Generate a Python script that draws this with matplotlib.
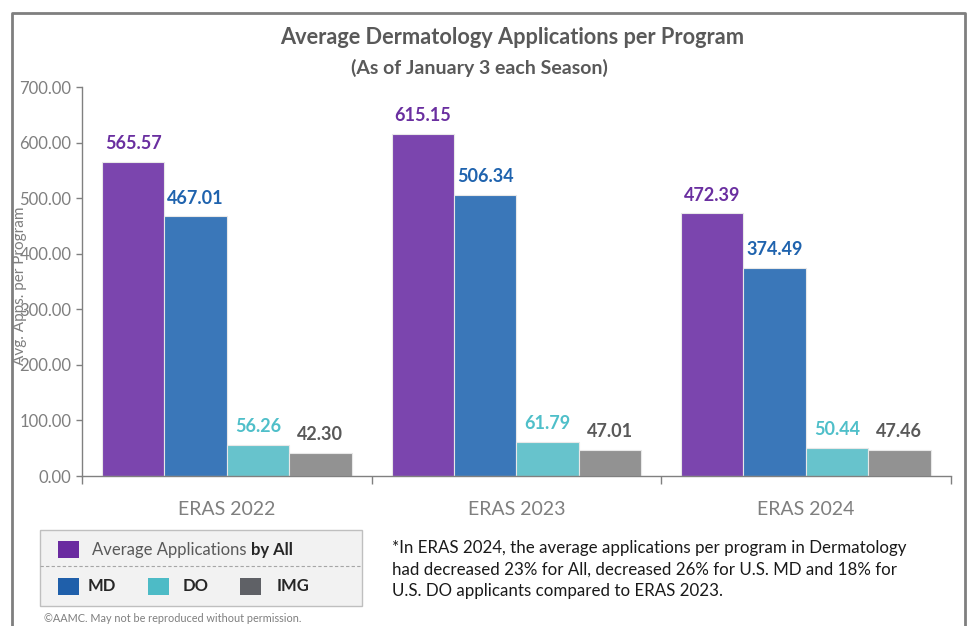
import matplotlib.pyplot as plt
import numpy as np
from matplotlib.patches import Rectangle
from matplotlib.lines import Line2D

plt.rcParams['font.family'] = ['Lato', 'DejaVu Sans']

seasons = ['ERAS 2022', 'ERAS 2023', 'ERAS 2024']
series_names = ['All', 'MD', 'DO', 'IMG']
all_apps = [565.57, 615.15, 472.39]
md_apps = [467.01, 506.34, 374.49]
do_apps = [56.26, 61.79, 50.44]
img_apps = [42.30, 47.01, 47.46]

bar_colors = ['#7B45AE', '#3A77B9', '#67C3CC', '#929292']
label_colors = ['#6A2FA0', '#1F63AE', '#4FBFC9', '#595959']
legend_colors = ['#6A2BA0', '#1F5FAA', '#4DBBC6', '#5F6166']
gray = '#595959'

fig = plt.figure(figsize=(9.73, 6.26), dpi=100)
ax = fig.add_axes([0.0843, 0.2396, 0.8927, 0.6214])

x = np.arange(len(seasons))
w = 0.2155
values = [all_apps, md_apps, do_apps, img_apps]
for i, vals in enumerate(values):
    pos = x + (i - 1.5) * w
    ax.bar(pos, vals, width=w, color=bar_colors[i], edgecolor='#E8E8E8', linewidth=0.8)
    for p, v in zip(pos, vals):
        ax.annotate(f'{v:.2f}', (p, v), xytext=(0, 7), textcoords='offset points',
                    ha='center', va='bottom', fontsize=13, fontweight='bold',
                    color=label_colors[i])

ax.set_xlim(-0.5, 2.5)
ax.set_ylim(0, 700)
ax.set_yticks(np.arange(0, 701, 100))
ax.set_yticklabels([f'{t:.2f}' for t in np.arange(0, 701, 100)])
ax.tick_params(axis='y', labelsize=12, colors='#808080', labelcolor='#7F7F7F', length=4, width=1)
ax.set_xticks(x)
ax.set_xticklabels(seasons, fontsize=14, color='#7F7F7F')
ax.tick_params(axis='x', which='major', length=0, pad=18)
ax.set_xticks([-0.5, 0.5, 1.5, 2.5], minor=True)
ax.tick_params(axis='x', which='minor', length=6, width=1, color='#808080', direction='out')
for s in ['top', 'right']:
    ax.spines[s].set_visible(False)
for s in ['left', 'bottom']:
    ax.spines[s].set_color('#808080')
    ax.spines[s].set_linewidth(1)
# the axis title sits over the tick labels, as in the original
ax.set_ylabel('Avg. Apps. per Program', fontsize=11, color='#7F7F7F')
ax.yaxis.set_label_coords(-0.063, 0.49)

fig.text(0.526, 0.94, 'Average Dermatology Applications per Program', ha='center', va='center',
         fontsize=15.7, fontweight='bold', color=gray)
fig.text(0.493, 0.891, '(As of January 3 each Season)', ha='center', va='center',
         fontsize=14, fontweight='bold', color=gray)

# outer frame
W, H = 973, 626
def fx(px): return px / W
def fy(py): return 1 - py / H
fig.add_artist(Line2D([fx(12), fx(12), fx(965), fx(965)], [0, fy(13), fy(13), 0],
                      color='#7F7F7F', linewidth=2, transform=fig.transFigure))

# legend box
fig.add_artist(Rectangle((fx(40), fy(606)), fx(362) - fx(40), fy(530) - fy(606),
                         facecolor='#F2F2F2', edgecolor='#BFBFBF', linewidth=1,
                         transform=fig.transFigure))
fig.add_artist(Line2D([fx(40), fx(362)], [fy(566), fy(566)], color='#A6A6A6',
                      linewidth=0.8, linestyle=(0, (3, 2)), transform=fig.transFigure))
sq_w, sq_h = 21, 17
fig.add_artist(Rectangle((fx(58), fy(558)), sq_w / W, sq_h / H, facecolor=legend_colors[0],
                         edgecolor='none', transform=fig.transFigure))
t = fig.text(fx(92), fy(550), 'Average Applications ', ha='left', va='center',
             fontsize=12, color=gray)
fig.canvas.draw()
bb = t.get_window_extent()
fig.text(bb.x1 / W, fy(550), 'by All', ha='left', va='center', fontsize=12,
         fontweight='bold', color='#262626')
row2 = [(58, 88, 'MD'), (148, 183, 'DO'), (240, 277, 'IMG')]
for (sx, tx, name), c in zip(row2, legend_colors[1:]):
    fig.add_artist(Rectangle((fx(sx), fy(595)), sq_w / W, sq_h / H, facecolor=c,
                             edgecolor='none', transform=fig.transFigure))
    fig.text(fx(tx), fy(586), name, ha='left', va='center', fontsize=12,
             fontweight='bold', color='#262626')

note = ('*In ERAS 2024, the average applications per program in Dermatology\n'
        'had decreased 23% for All, decreased 26% for U.S. MD and 18% for\n'
        'U.S. DO applicants compared to ERAS 2023.')
fig.text(fx(392), fy(540), note, ha='left', va='top', fontsize=12.2, color='#1A1A1A',
         linespacing=1.42)
fig.text(fx(44), fy(619), '\u00a9AAMC. May not be reproduced without permission.',
         ha='left', va='center', fontsize=7.8, color='#7F7F7F')

fig.savefig('out.png', dpi=100)
